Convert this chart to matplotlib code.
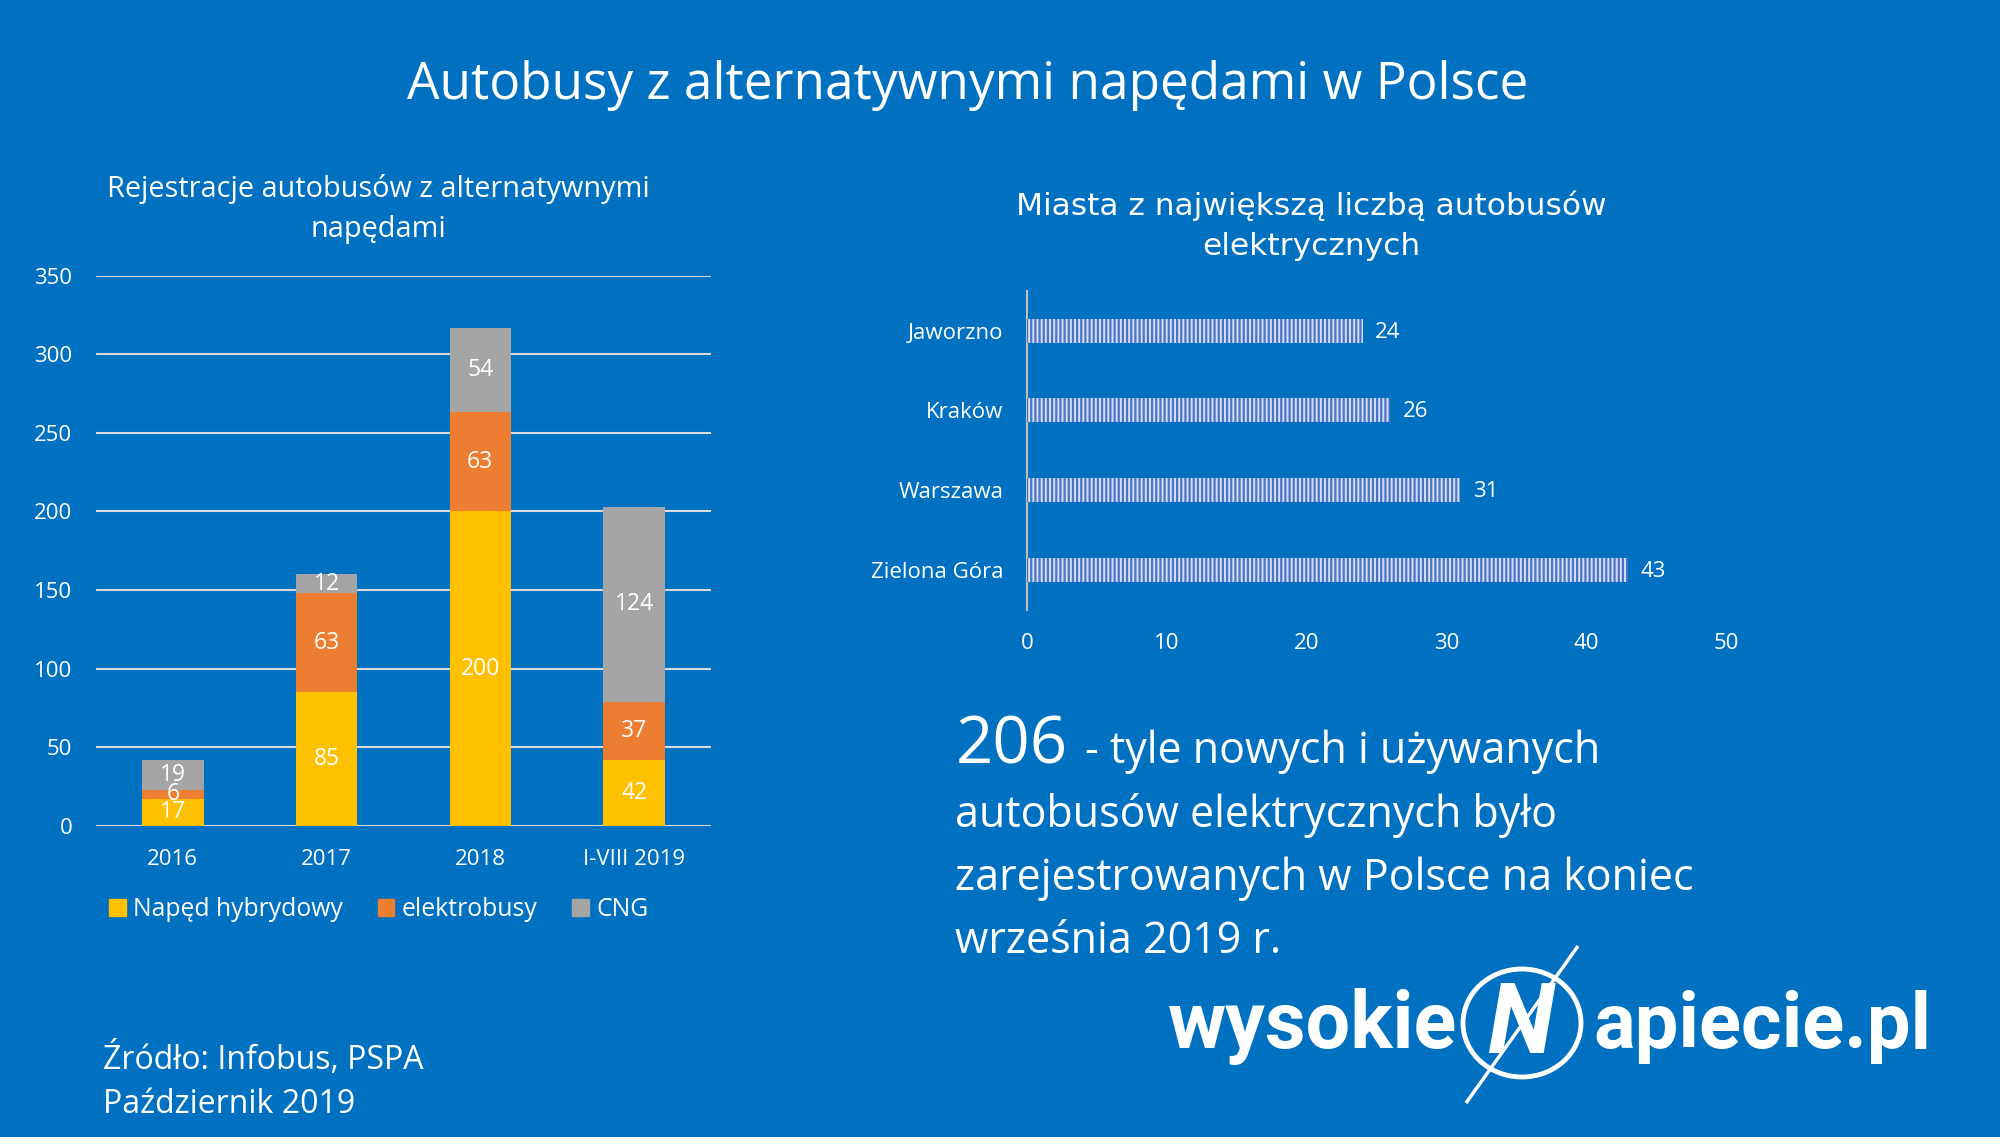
import matplotlib
matplotlib.use('Agg')
import matplotlib.pyplot as plt
from matplotlib import font_manager as fm
from matplotlib.patches import Rectangle, Ellipse, Patch
import numpy as np

# ---------------- data ----------------
years = ['2016', '2017', '2018', 'I-VIII 2019']
hybrid = [17, 85, 200, 42]
electric = [6, 63, 63, 37]
cng = [19, 12, 54, 124]
series_names = ['Napęd hybrydowy', 'elektrobusy', 'CNG']
left_yticks = [0, 50, 100, 150, 200, 250, 300, 350]

cities = ['Zielona Góra', 'Warszawa', 'Kraków', 'Jaworzno']
city_buses = [43, 31, 26, 24]
right_xticks = [0, 10, 20, 30, 40, 50]

# ---------------- style ----------------
BG = '#0070C0'
COLORS = ['#FFC000', '#ED7D31', '#A5A5A5']
FONT = 'Open Sans'
plt.rcParams['font.family'] = [FONT, 'DejaVu Sans']
plt.rcParams['hatch.linewidth'] = 1.6


def has_font(name):
    try:
        fm.findfont(fm.FontProperties(family=name), fallback_to_default=False)
        return True
    except Exception:
        return False


LOGO_FONT = 'Liberation Sans Narrow' if has_font('Liberation Sans Narrow') else 'Roboto'

W, H = 2000, 1146
fig = plt.figure(figsize=(W / 100, H / 100), dpi=100)
fig.patch.set_facecolor('white')

ov = fig.add_axes([0, 0, 1, 1])
ov.set_xlim(0, W)
ov.set_ylim(H, 0)
ov.axis('off')
ov.set_zorder(0)
ov.add_patch(Rectangle((0, 0), W, 1137, color=BG, lw=0))


def fa(x0, y0, x1, y1):
    return [x0 / W, 1 - y1 / H, (x1 - x0) / W, (y1 - y0) / H]


# ---------------- left chart ----------------
ax1 = fig.add_axes(fa(96, 275.7, 711, 825.7))
ax1.set_zorder(1)
ax1.set_facecolor('none')
x = np.arange(len(years))
bottom = np.zeros(len(years))
for vals, col in zip([hybrid, electric, cng], COLORS):
    ax1.bar(x, vals, 0.4, bottom=bottom, color=col, zorder=3)
    for xi, b, v in zip(x, bottom, vals):
        ax1.text(xi, b + v / 2, str(v), ha='center', va='center', color='white',
                 fontsize=16.5, zorder=4)
    bottom = bottom + np.array(vals)
ax1.set_xlim(-0.5, 3.5)
ax1.set_ylim(0, 350)
ax1.set_yticks(left_yticks)
ax1.set_xticks(x, years)
ax1.yaxis.grid(True, color='#D9D9D9', lw=1.5, zorder=0)
ax1.set_axisbelow(True)
for s in ax1.spines.values():
    s.set_visible(False)
ax1.tick_params(length=0, labelcolor='white', labelsize=16, pad=17)

leg_handles = [Patch(color=c) for c in COLORS]
fig.legend(leg_handles, series_names, loc='center left',
           bbox_to_anchor=(109 / W, 1 - 910 / H), bbox_transform=fig.transFigure,
           ncol=3, frameon=False, fontsize=17.8, handlelength=0.68, handleheight=0.68,
           handletextpad=0.3, columnspacing=1.4, borderpad=0, borderaxespad=0,
           labelcolor='white')

# ---------------- right chart ----------------
ax2 = fig.add_axes(fa(1027, 291, 1726, 609.5))
ax2.set_zorder(1)
ax2.set_facecolor('none')
yy = np.arange(len(cities))
ax2.barh(yy, city_buses, height=0.3, facecolor='#D6E0F5', edgecolor='#4A73CB', lw=0,
         hatch='||||', zorder=3)
for yi, v in zip(yy, city_buses):
    ax2.annotate(str(v), (v, yi), xytext=(9, -1), textcoords='offset points',
                 ha='left', va='center', color='white', fontsize=16)
ax2.set_xlim(0, 50)
ax2.set_ylim(-0.5, 3.5)
ax2.set_xticks(right_xticks)
ax2.set_yticks(yy, cities)
for k, s in ax2.spines.items():
    s.set_visible(k == 'left')
ax2.spines['left'].set_color('#BFBFBF')
ax2.spines['left'].set_linewidth(1.5)
ax2.tick_params(length=0, labelcolor='white', labelsize=16, pad=17)

# ---------------- texts ----------------
ov.text(968, 99, 'Autobusy z alternatywnymi napędami w Polsce', ha='center',
        va='baseline', fontsize=37, color='white')
ov.text(378, 196.7, 'Rejestracje autobusów z alternatywnymi', ha='center',
        va='baseline', fontsize=20.8, color='white')
ov.text(378, 236.5, 'napędami', ha='center', va='baseline', fontsize=20.8, color='white')
ov.text(1311, 215, 'Miasta z największą liczbą autobusów', ha='center',
        va='baseline', fontsize=22.5, color='white', family='DejaVu Sans')
ov.text(1311, 255, 'elektrycznych', ha='center', va='baseline', fontsize=22.5,
        color='white', family='DejaVu Sans')

t206 = ov.text(956, 763, '206', ha='left', va='baseline', fontsize=47, color='white')
fig.canvas.draw()
bb = t206.get_window_extent(renderer=fig.canvas.get_renderer())
x_after = bb.x1 + 17
ov.text(x_after, 763, '- tyle nowych i używanych', ha='left', va='baseline',
        fontsize=31, color='white')
para = ['autobusów elektrycznych było', 'zarejestrowanych w Polsce na koniec',
        'września 2019 r.']
for i, line in enumerate(para):
    ov.text(955, 827 + 63 * i, line, ha='left', va='baseline', fontsize=31, color='white')

ov.text(103, 1069, 'Źródło: Infobus, PSPA', ha='left', va='baseline', fontsize=23,
        color='white')
ov.text(103, 1113, 'Październik 2019', ha='left', va='baseline', fontsize=23,
        color='white')

# ---------------- logo ----------------
ov.text(1168, 1048, 'wysokie', ha='left', va='baseline', fontsize=57,
        fontweight='bold', color='white', family=LOGO_FONT)
ov.text(1593, 1048, 'apiecie.pl', ha='left', va='baseline', fontsize=56,
        fontweight='bold', color='white', family=LOGO_FONT)
ov.add_patch(Ellipse((1522, 1023), 118, 108, fill=False, ec='white', lw=3.5))
ov.text(1521, 1026, 'N', ha='center', va='center', fontsize=70, fontweight='bold',
        style='italic', color='white', family=LOGO_FONT)
ov.plot([1578, 1466], [946, 1103], color='white', lw=2.5, solid_capstyle='butt')

fig.savefig('out.png', dpi=100, facecolor=fig.get_facecolor())
